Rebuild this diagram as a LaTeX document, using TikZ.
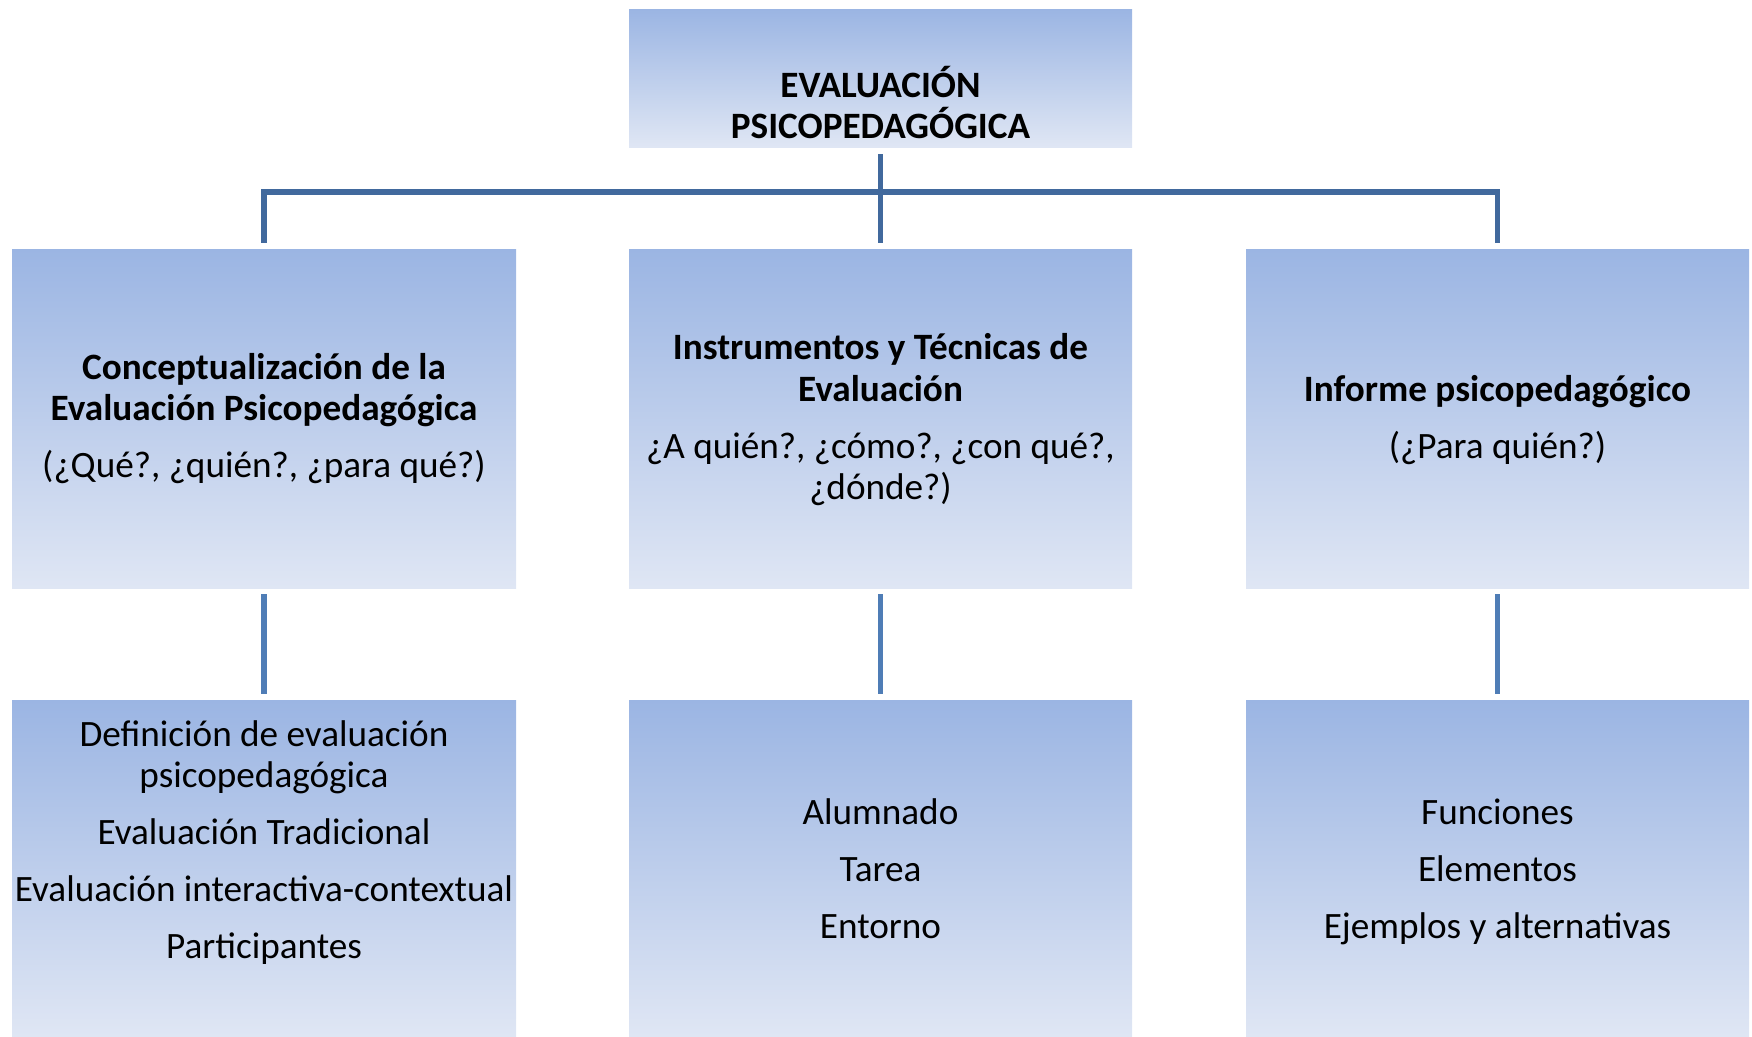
\documentclass[tikz,border=0pt]{standalone}
\usepackage{fontspec}
\setmainfont{Carlito}
\definecolor{boxtop}{RGB}{155,181,227}
\definecolor{boxbot}{RGB}{223,230,244}
\definecolor{treeline}{RGB}{65,105,157}
\definecolor{subline}{RGB}{79,125,182}
\tikzset{
  box/.style={rectangle, inner sep=0pt, draw=none, top color=boxtop, bottom color=boxbot},
  txt/.style={anchor=base, inner sep=0pt, font=\fontsize{37.2}{41}\selectfont},
  btxt/.style={txt, font=\fontsize{37.2}{41}\selectfont\bfseries},
  conn/.style={draw=treeline, line width=5.5pt},
  subconn/.style={draw=subline, line width=5.5pt}
}
\begin{document}
\begin{tikzpicture}[x=1pt, y=-1pt]
\useasboundingbox (0,0) rectangle (1752,1036);
% boxes
\node[box, minimum width=503pt, minimum height=138pt] (top) at (880.5,78) {};
\node[box, minimum width=504pt, minimum height=339pt] (A) at (264,418.5) {};
\node[box, minimum width=503pt, minimum height=339pt] (B) at (880.5,418.5) {};
\node[box, minimum width=503pt, minimum height=339pt] (C) at (1497.5,418.5) {};
\node[box, minimum width=504pt, minimum height=336pt] (A2) at (264,868) {};
\node[box, minimum width=503pt, minimum height=336pt] (B2) at (880.5,868) {};
\node[box, minimum width=503pt, minimum height=336pt] (C2) at (1497.5,868) {};
% connectors
\draw[conn] ([yshift=-7pt]top.south) -- ([yshift=6pt]B.north);
\draw[conn, line join=miter] ([yshift=6pt]A.north) -- ([yshift=57pt]A.north) -- ([yshift=57pt]C.north) -- ([yshift=6pt]C.north);
\draw[subconn] ([yshift=-6pt]A.south) -- ([yshift=6pt]A2.north);
\draw[subconn] ([yshift=-6pt]B.south) -- ([yshift=6pt]B2.north);
\draw[subconn] ([yshift=-6pt]C.south) -- ([yshift=6pt]C2.north);
% top text
\node[btxt] (t1) at (880.5,97) {EVALUACIÓN};
\node[btxt] (t2) at (880.5,138.5) {PSICOPEDAGÓGICA};
% row 2
\node[btxt] (a1) at (264,379.5) {Conceptualización de la};
\node[btxt] (a2) at (264,420.5) {Evaluación Psicopedagógica};
\node[txt] (a3) at (264,477.5) {(¿Qué?, ¿quién?, ¿para qué?)};
\node[btxt] (b1) at (880.5,359.5) {Instrumentos y Técnicas de};
\node[btxt] (b2) at (880.5,401) {Evaluación};
\node[txt] (b3) at (880.5,458) {¿A quién?, ¿cómo?, ¿con qué?,};
\node[txt] (b4) at (880.5,499) {¿dónde?)};
\node[btxt] (c1) at (1497.5,401) {Informe psicopedagógico};
\node[txt] (c2) at (1497.5,458) {(¿Para quién?)};
% row 3
\node[txt] (d1) at (264,746.5) {Definición de evaluación};
\node[txt] (d2) at (264,787.5) {psicopedagógica};
\node[txt] (d3) at (264,844.5) {Evaluación Tradicional};
\node[txt] (d4) at (264,901.5) {Evaluación interactiva-contextual};
\node[txt] (d5) at (264,958.5) {Participantes};
\node[txt] (e1) at (880.5,824.5) {Alumnado};
\node[txt] (e2) at (880.5,881.5) {Tarea};
\node[txt] (e3) at (880.5,938.5) {Entorno};
\node[txt] (f1) at (1497.5,824.5) {Funciones};
\node[txt] (f2) at (1497.5,881.5) {Elementos};
\node[txt] (f3) at (1497.5,938.5) {Ejemplos y alternativas};
\end{tikzpicture}
\end{document}
